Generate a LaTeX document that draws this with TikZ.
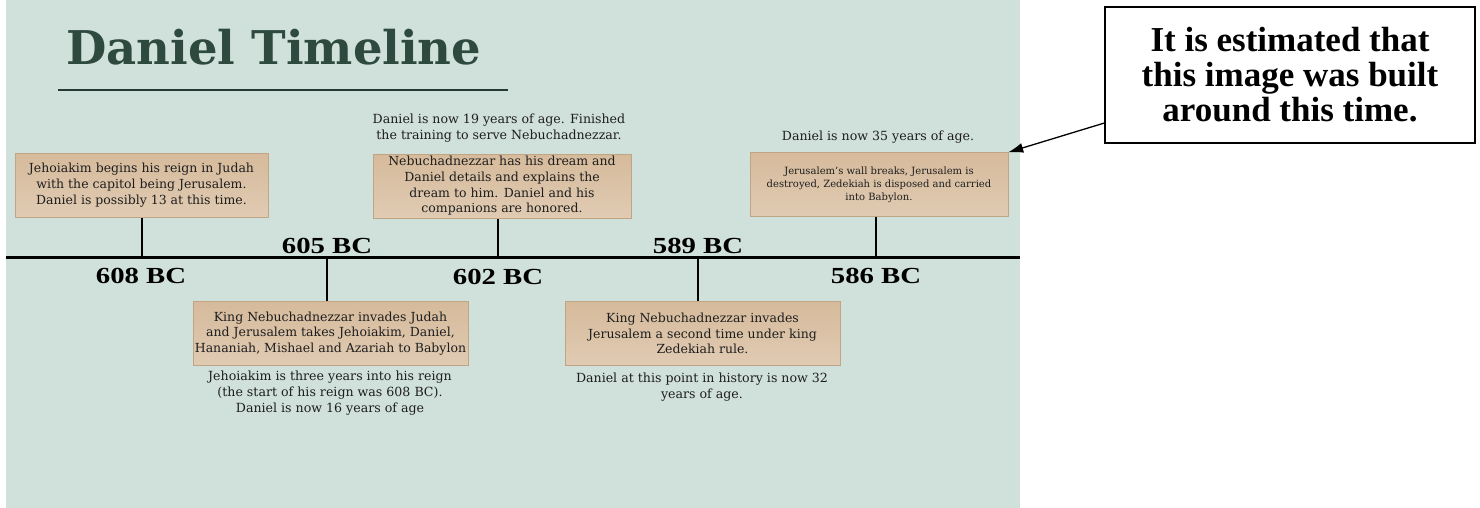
\documentclass[tikz,border=0pt]{standalone}
\usepackage{fontspec}
\setmainfont{DejaVu Serif}
\newfontfamily\yearfont[FakeStretch=1.25]{Liberation Serif}
\newfontfamily\calloutfont{Liberation Serif}
\usetikzlibrary{arrows.meta}
\pgfdeclarelayer{edgelayer}
\pgfdeclarelayer{nodelayer}
\pgfsetlayers{edgelayer,nodelayer,main}
\definecolor{panel}{HTML}{D0E0DA}
\definecolor{boxtop}{HTML}{D6BA9B}
\definecolor{boxbottom}{HTML}{E0CBB3}
\definecolor{boxline}{HTML}{BFA584}
\definecolor{titlegreen}{HTML}{2E4A3F}
\definecolor{ink}{HTML}{1E1E1E}
\tikzstyle{event}=[rectangle,draw=boxline,top color=boxtop,bottom color=boxbottom,minimum height=64pt,align=center,text=ink,inner sep=1pt,font=\fontsize{12.5}{15.7}\selectfont]
\tikzstyle{note}=[align=center,text=ink,inner sep=0pt,font=\fontsize{12.6}{15.7}\selectfont]
\tikzstyle{year}=[text=black,inner sep=0pt,font=\yearfont\bfseries\fontsize{23}{24}\selectfont]
\tikzstyle{tick}=[draw=black,line width=2pt]
\tikzstyle{callout}=[rectangle,draw=black,line width=1.2pt,fill=white,align=center,minimum width=370pt,minimum height=136pt,font=\calloutfont\bfseries\fontsize{35}{35}\selectfont]
\tikzstyle{pointer}=[-{Latex[length=15pt,width=10pt]},draw=black,line width=1.3pt]

\begin{document}
\begin{tikzpicture}[x=1pt,y=-1pt]
	\useasboundingbox (0,0) rectangle (1480,508);
	\begin{pgfonlayer}{nodelayer}
		\node [anchor=base west, text=titlegreen, inner sep=0pt, font=\bfseries\fontsize{46.5}{46.5}\selectfont] (title) at (66,65) {Daniel Timeline};
		\node [style=event, minimum width=253pt] (0) at (141.5,185) {Jehoiakim begins his reign in Judah\\with the capitol being Jerusalem.\\Daniel is possibly 13 at this time.};
		\node [style=event, minimum width=275pt] (1) at (330.5,333.5) {King Nebuchadnezzar invades Judah\\and Jerusalem takes Jehoiakim, Daniel,\\Hananiah, Mishael and Azariah to Babylon};
		\node [style=event, minimum width=258pt] (2) at (502,186) {Nebuchadnezzar has his dream and\\Daniel details and explains the\\dream to him. Daniel and his\\companions are honored.};
		\node [style=event, minimum width=275pt] (3) at (702.5,333.5) {King Nebuchadnezzar invades\\Jerusalem a second time under king\\Zedekiah rule.};
		\node [style=event, minimum width=258pt, font=\fontsize{10}{13}\selectfont] (4) at (879,184.5) {Jerusalem's wall breaks, Jerusalem is\\destroyed, Zedekiah is disposed and carried\\into Babylon.};
		\node [style=note] (5) at (499,128) {Daniel is now 19 years of age. Finished\\the training to serve Nebuchadnezzar.};
		\node [style=note] (6) at (878,137) {Daniel is now 35 years of age.};
		\node [style=note] (7) at (330,393) {Jehoiakim is three years into his reign\\(the start of his reign was 608 BC).\\Daniel is now 16 years of age};
		\node [style=note] (8) at (702,387) {Daniel at this point in history is now 32\\years of age.};
		\node [style=year] (y0) at (141,276) {608 BC};
		\node [style=year] (y1) at (327,246) {605 BC};
		\node [style=year] (y2) at (498,277) {602 BC};
		\node [style=year] (y3) at (698,246) {589 BC};
		\node [style=year] (y4) at (876,276) {586 BC};
		\node [style=callout] (c) at (1290,75) {\raisebox{-3pt}{It is estimated that}\\\raisebox{-3pt}{this image was built}\\\raisebox{-3pt}{around this time.}};
	\end{pgfonlayer}
	\begin{pgfonlayer}{edgelayer}
		\fill [panel] (6,0) rectangle (1020,508);
		\draw [draw=titlegreen!80!black, line width=1.3pt] (58,90) -- (508,90);
		\coordinate (t0) at (141.5,257.5);
		\coordinate (t1) at (327,257.5);
		\coordinate (t2) at (498,257.5);
		\coordinate (t3) at (698,257.5);
		\coordinate (t4) at (876,257.5);
		\draw [line width=2.5pt] (6,257.5) -- (1020,257.5);
		\draw [style=tick] (t0) to (t0 |- 0.south);
		\draw [style=tick] (t1) to (t1 |- 1.north);
		\draw [style=tick] (t2) to (t2 |- 2.south);
		\draw [style=tick] (t3) to (t3 |- 3.north);
		\draw [style=tick] (t4) to (t4 |- 4.south);
	\end{pgfonlayer}
	\draw [style=pointer] ([yshift=-48pt]c.west) to (4.north east);
\end{tikzpicture}
\end{document}
